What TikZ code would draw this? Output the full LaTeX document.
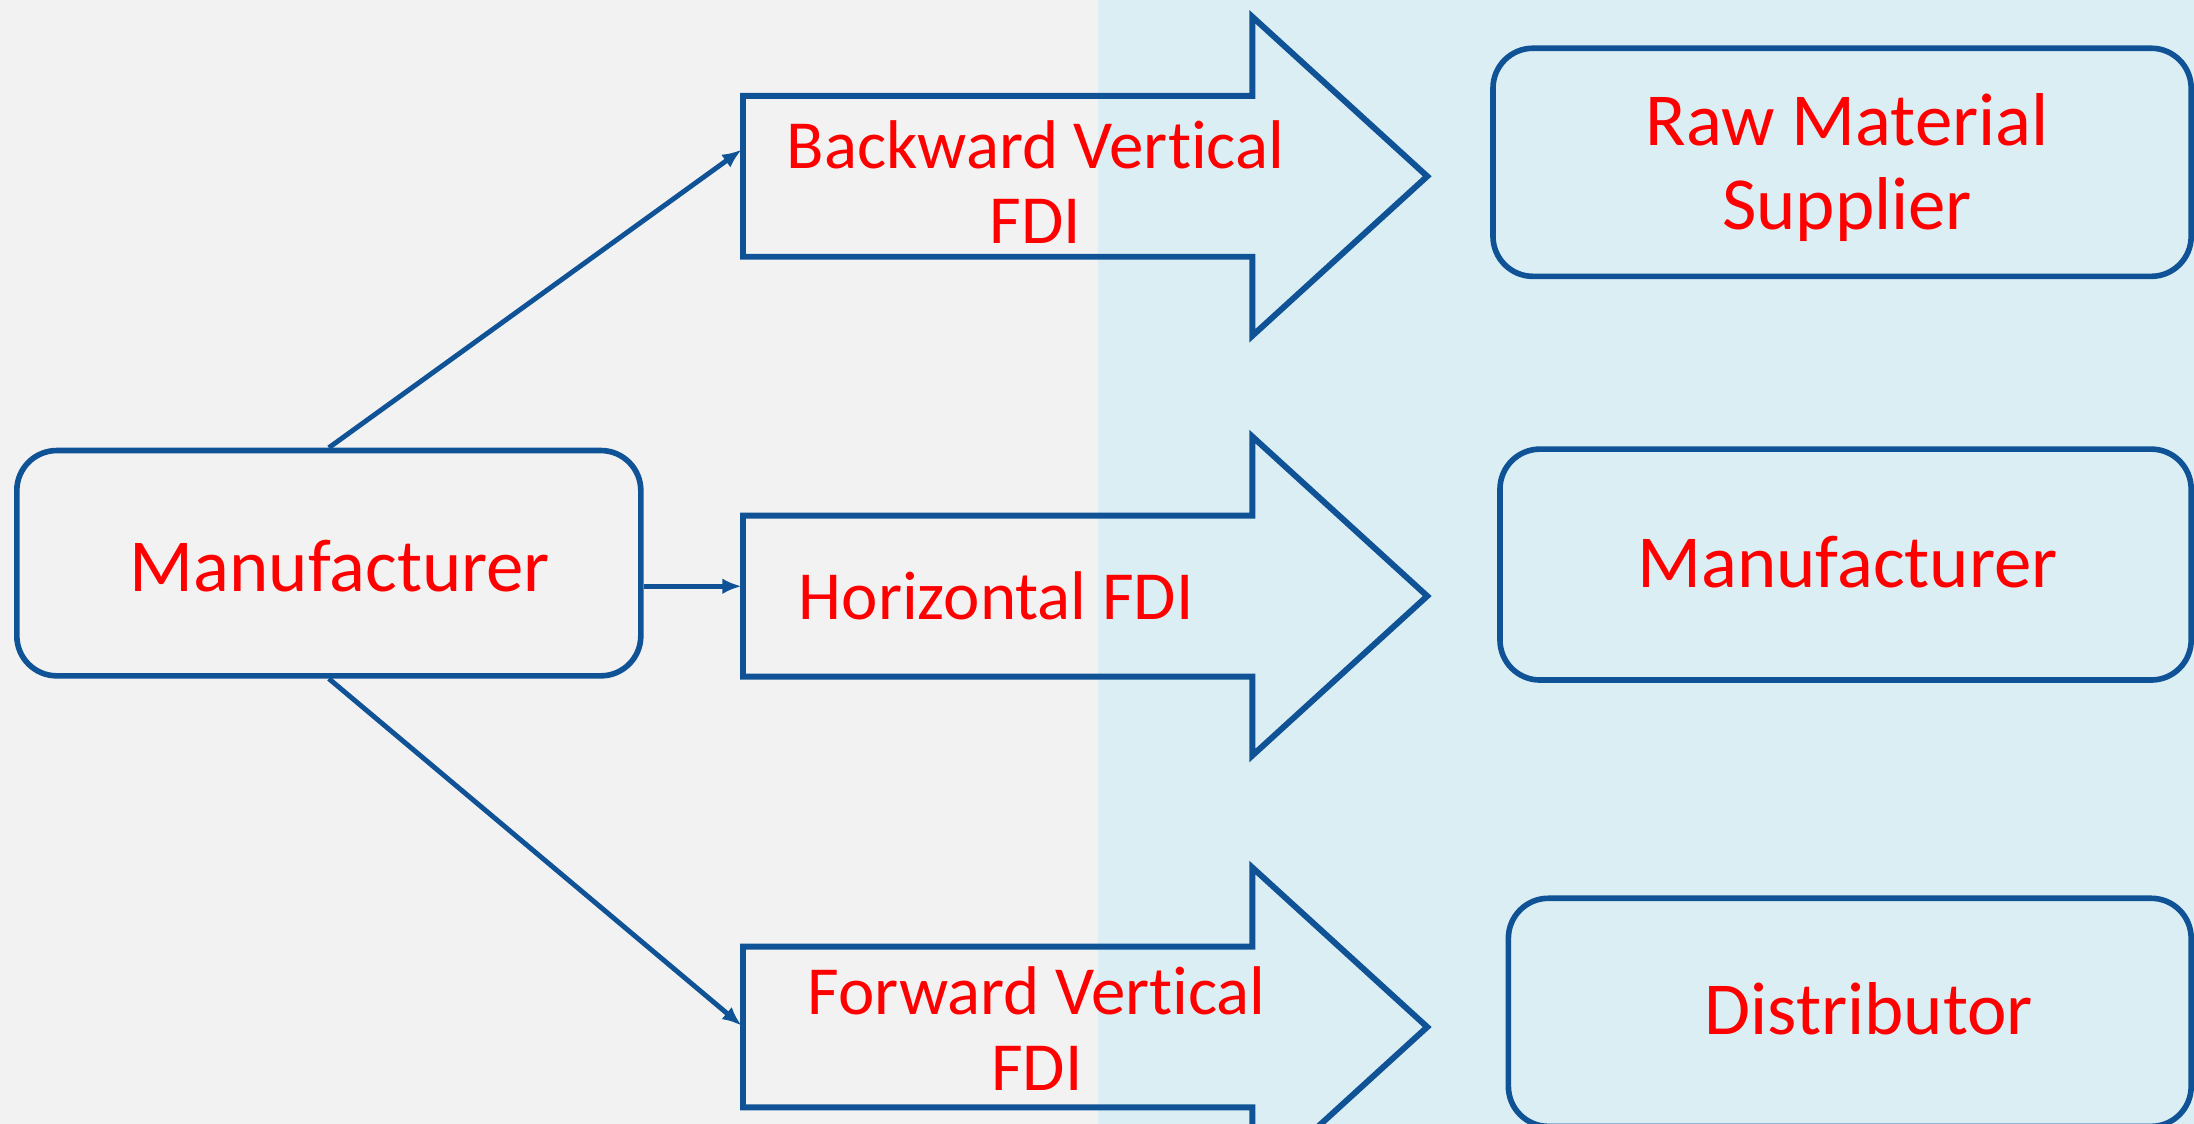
\documentclass[tikz,border=0pt]{standalone}
\usepackage{fontspec}
\setmainfont[Ligatures=NoCommon]{Carlito}
\usetikzlibrary{arrows.meta}
\definecolor{paneGray}{HTML}{F2F2F2}
\definecolor{paneBlue}{HTML}{DAEEF3}
\definecolor{edgeBlue}{HTML}{0F5396}
\definecolor{labelRed}{HTML}{FF0000}
\tikzset{
  box/.style={draw=edgeBlue, line width=1.6pt, rounded corners=0.4cm,
    inner sep=0pt},
  boxtxt/.style={text=labelRed, align=center, inner sep=0pt,
    font=\fontsize{21.3}{24}\selectfont},
  blockarrow/.style={draw=edgeBlue, line width=1.7pt, line join=miter},
  lbl/.style={text=labelRed, align=center, inner sep=0pt,
    font=\fontsize{19.6}{21.5}\selectfont},
  conn/.style={draw=edgeBlue, line width=1.4pt,
    -{Latex[length=5.5pt,width=4.5pt]}},
  % outline of a wide FDI arrow, drawn from the middle of its tail
  fdiarrow/.pic={
    \draw[blockarrow] (0,-57.5) -- (364,-57.5) -- (364,-114) -- (489,0)
      -- (364,114) -- (364,57.5) -- (0,57.5) -- cycle;
  }
}
\begin{document}
\begin{tikzpicture}[x=0.013992cm, y=-0.013992cm]
% two background panes
\fill[paneGray] (0,0) rectangle (785,803);
\fill[paneBlue] (785,0) rectangle (1568,803);
\useasboundingbox (0,0) rectangle (1568,803);

% block arrows and their captions
\pic at (531,126) {fdiarrow};
\pic at (531,426) {fdiarrow};
\pic at (531,734) {fdiarrow};
\node[lbl] (bvText) at (740,130) {Backward Vertical\\FDI};
\node[lbl] (hzText) at (712,426) {Horizontal FDI};
\node[lbl] (fvText) at (741,735) {Forward Vertical\\FDI};
\coordinate (bvIn) at (530,107);
\coordinate (hzIn) at (530,419);
\coordinate (fvIn) at (530,733);

% firms
\node[box, minimum width=6.24cm, minimum height=2.253cm,
  label={[boxtxt, xshift=0.11cm, yshift=-0.03cm]center:Manufacturer}]
  (mfr) at (235,402.5) {};
\node[box, minimum width=6.982cm, minimum height=2.281cm,
  label={[boxtxt, xshift=0.05cm, yshift=-0.05cm]center:{Raw Material\\Supplier}}]
  (raw) at (1316.5,116) {};
\node[box, minimum width=6.912cm, minimum height=2.309cm,
  label={[boxtxt, xshift=0.02cm, yshift=0.02cm]center:Manufacturer}]
  (mfr2) at (1319,403.5) {};
\node[box, minimum width=6.828cm, minimum height=2.281cm,
  label={[boxtxt, xshift=0.19cm, yshift=0.04cm]center:Distributor}]
  (dist) at (1322,723.5) {};

% links from the home firm
\draw[conn] (mfr.north) -- (bvIn);
\draw[conn] (mfr.east |- hzIn) -- (hzIn);
\draw[conn] (mfr.south) -- (fvIn);
\end{tikzpicture}
\end{document}
